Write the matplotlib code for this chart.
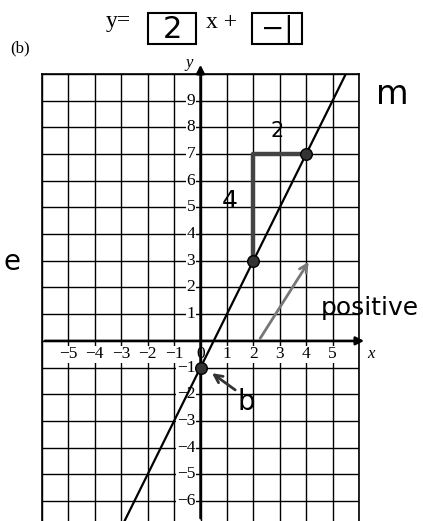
import numpy as np
import matplotlib
matplotlib.use("Agg")
from matplotlib import pyplot as plt
from matplotlib.patches import Rectangle

# line y = m x + b
slope = 2
intercept = -1
points_x = [0, 2, 4]
points_y = [-1, 3, 7]

x_ticks = [-5, -4, -3, -2, -1, 0, 1, 2, 3, 4, 5]
y_ticks = [9, 8, 7, 6, 5, 4, 3, 2, 1, -1, -2, -3, -4, -5, -6]

x_min, x_max = -6, 6
y_min, y_max = -6.75, 10

serif = "Liberation Serif"
hand = "DejaVu Sans"

fig = plt.figure(figsize=(4.23, 5.21), dpi=100)
ax = fig.add_axes([42 / 423, 0, 317 / 423, 447 / 521])
ax.set_xlim(x_min, x_max)
ax.set_ylim(y_min, y_max)

# grid
for gx in range(x_min, x_max + 1):
    ax.axvline(gx, color="black", lw=1.0, zorder=1)
for gy in range(-7, y_max + 1):
    ax.axhline(gy, color="black", lw=1.0, zorder=1)

for s in ["left", "right", "top"]:
    ax.spines[s].set_linewidth(1.2)
ax.spines["bottom"].set_visible(False)
ax.set_xticks([])
ax.set_yticks([])

# axes with arrow heads
ax.annotate("", xy=(6.3, 0), xytext=(x_min, 0), annotation_clip=False,
            arrowprops=dict(arrowstyle="-|>", color="black", lw=1.8, mutation_scale=12))
ax.annotate("", xy=(0, 10.45), xytext=(0, y_min), annotation_clip=False,
            arrowprops=dict(arrowstyle="-|>", color="black", lw=1.8, mutation_scale=12))
ax.text(6.3, -0.5, "x", fontsize=12, style="italic", family=serif, ha="left", va="center")
ax.text(-0.45, 10.4, "y", fontsize=12, style="italic", family=serif, ha="center", va="center")

# tick labels
for t in x_ticks:
    lab = str(t).replace("-", "\u2212")
    ax.text(t, -0.5, lab, fontsize=12.5, family=serif, ha="center", va="center",
            bbox=dict(fc="white", ec="none", pad=0.2) if t != 0 else None, zorder=3)
for t in y_ticks:
    lab = str(t).replace("-", "\u2212")
    ax.text(-0.2, t, lab, fontsize=12.5, family=serif, ha="right", va="center",
            bbox=dict(fc="white", ec="none", pad=0.2), zorder=3)

# the line
lx = np.array([(y_min - intercept) / slope, (y_max - intercept) / slope])
ax.plot(lx, slope * lx + intercept, color="black", lw=1.6, zorder=4)
ax.scatter(points_x, points_y, s=70, color="#333333", edgecolor="black", zorder=5)

# rise / run
ax.plot([2, 2, 4], [3, 7, 7], color="#444444", lw=3.2, zorder=4, solid_capstyle="butt")
ax.text(2.9, 7.85, "2", fontsize=15, family=hand, ha="center", va="center", zorder=6)
ax.text(1.1, 5.25, "4", fontsize=18, family=hand, ha="center", va="center", zorder=6)

# notes
ax.annotate("", xy=(4.15, 3.05), xytext=(2.2, 0), annotation_clip=False,
            arrowprops=dict(arrowstyle="->", color="#777777", lw=2.0, mutation_scale=14))
ax.annotate("", xy=(0.35, -1.15), xytext=(1.4, -1.9), annotation_clip=False,
            arrowprops=dict(arrowstyle="->", color="#333333", lw=2.0, mutation_scale=14))
ax.text(1.75, -2.3, "b", fontsize=20, family=hand, ha="center", va="center", zorder=6)

fig.text(419 / 423, 1 - 308 / 521, "positive", fontsize=18, family=hand,
         ha="right", va="center", zorder=6)

# equation header
fig.text(118 / 423, 1 - 22 / 521, "y=", fontsize=17, family=serif, ha="center", va="center")
fig.add_artist(Rectangle((148 / 423, 1 - 44 / 521), 48 / 423, 31 / 521,
                         transform=fig.transFigure, fill=False, ec="black", lw=1.5))
fig.text(172 / 423, 1 - 29 / 521, "2", fontsize=22, family=hand, ha="center", va="center")
fig.text(221 / 423, 1 - 22 / 521, "x +", fontsize=17, family=serif, ha="center", va="center")
fig.add_artist(Rectangle((252 / 423, 1 - 44 / 521), 50 / 423, 31 / 521,
                         transform=fig.transFigure, fill=False, ec="black", lw=1.5))
fig.text(277 / 423, 1 - 29 / 521, "\u2212|", fontsize=20, family=hand, ha="center", va="center")
fig.text(20 / 423, 1 - 48 / 521, "(b)", fontsize=12, family=serif, ha="center", va="center")

fig.text(392 / 423, 1 - 95 / 521, "m", fontsize=24, family=hand, ha="center", va="center")
fig.text(12 / 423, 1 - 262 / 521, "e", fontsize=20, family=hand, ha="center", va="center")

fig.savefig("out.png", dpi=100)
